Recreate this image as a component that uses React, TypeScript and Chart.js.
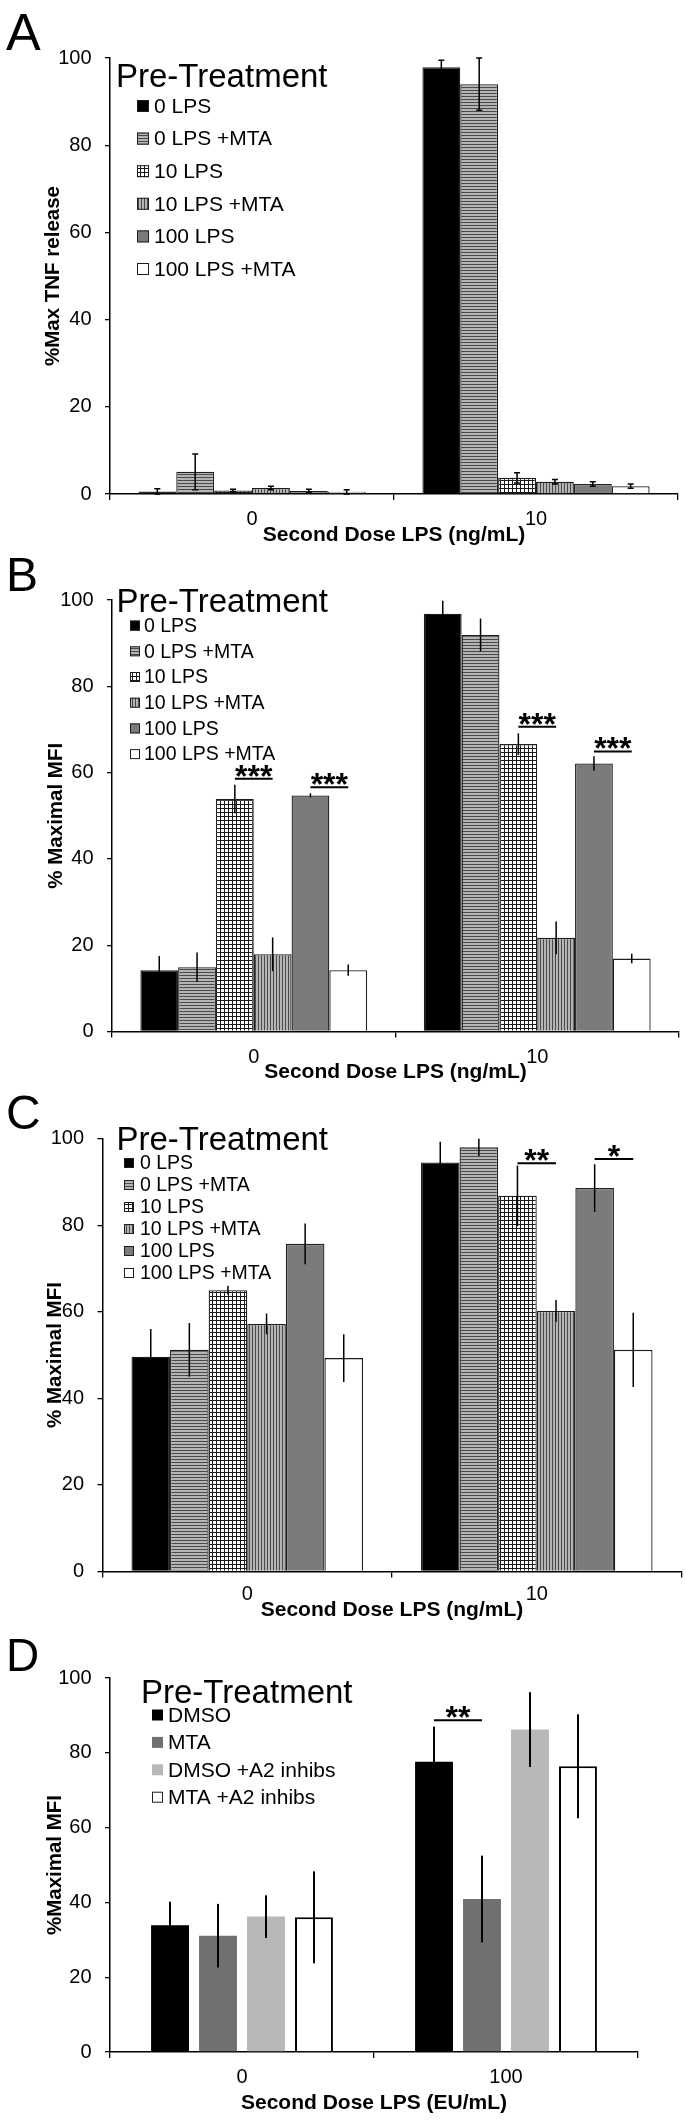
import { useEffect, useRef } from "react";
import { Chart, registerables } from "chart.js";

Chart.register(...registerables);

const FONT = "'Liberation Sans', Arial, Helvetica, sans-serif";

// ---------------- data ----------------
const lpsCategories = ["0", "10"];
const euCategories = ["0", "100"];
const lpsSeries = ["0 LPS", "0 LPS +MTA", "10 LPS", "10 LPS +MTA", "100 LPS", "100 LPS +MTA"];
const dSeries = ["DMSO", "MTA", "DMSO +A2 inhibs", "MTA +A2 inhibs"];
const yTickStep = 20;
const yMax = 100;

// each row = one series, values for [second dose 0, second dose 10/100]
const aMeans = [[0.6, 97.9], [5.1, 94.0], [0.8, 3.7], [1.4, 2.8], [0.7, 2.3], [0.5, 1.8]];
const aErrors = [[0.6, 1.6], [4.1, 6.0], [0.3, 1.2], [0.4, 0.5], [0.4, 0.5], [0.5, 0.5]];

const bMeans = [[14.2, 96.8], [14.9, 91.9], [53.9, 66.6], [17.9, 21.7], [54.7, 62.1], [14.2, 16.9]];
const bErrors = [[3.3, 3.0], [3.4, 3.8], [3.3, 2.5], [3.9, 3.8], [0.5, 1.7], [1.3, 1.1]];

const cMeans = [[49.6, 94.5], [51.2, 98.0], [65.0, 86.8], [57.2, 60.2], [75.7, 88.6], [49.3, 51.2]];
const cErrors = [[6.4, 4.8], [6.2, 2.0], [1.0, 7.0], [2.4, 2.5], [4.7, 5.5], [5.5, 8.6]];

const dMeans = [[33.9, 77.6], [31.1, 40.9], [36.2, 86.2], [36.0, 76.4]];
const dErrors = [[6.3, 9.4], [8.5, 11.6], [5.7, 10.0], [12.3, 13.9]];

// significance: [category index, first bar index, bracket level (%), label]
const bSignif: [number, number, number, string][] = [[0, 2, 58.6, "***"], [0, 4, 56.6, "***"], [1, 2, 70.6, "***"], [1, 4, 64.9, "***"]];
const cSignif: [number, number, number, string][] = [[1, 2, 94.3, "**"], [1, 4, 95.3, "*"]];
const dSignif: [number, number, number, string][] = [[1, 0, 88.7, "**"]];

// ---------------- styles ----------------
function makePattern(kind: string): CanvasPattern | string {
  const c = document.createElement("canvas");
  const n = kind === "grid" ? 4 : 3;
  c.width = n;
  c.height = n;
  const g = c.getContext("2d");
  if (!g) return "#999";
  if (kind === "hstripes") {
    g.fillStyle = "#b4b4b4";
    g.fillRect(0, 0, n, n);
    g.fillStyle = "#4a4a4a";
    g.fillRect(0, 0, n, 1);
  } else if (kind === "vstripes") {
    g.fillStyle = "#b4b4b4";
    g.fillRect(0, 0, n, n);
    g.fillStyle = "#4a4a4a";
    g.fillRect(0, 0, 1, n);
  } else {
    g.fillStyle = "#ffffff";
    g.fillRect(0, 0, n, n);
    g.fillStyle = "#1a1a1a";
    g.fillRect(0, 0, n, 1);
    g.fillRect(0, 0, 1, n);
  }
  return g.createPattern(c, "repeat") || "#999";
}

type Layout = {
  letter: string;
  letterSize: number;
  letterBaseline: number;
  top: number;
  height: number;
  plot: { left: number; right: number; top: number; bottom: number };
  tickLabelY: number;
  xTitleY: number;
  yTitleX: number;
  legendTitleX: number;
  legendTitleBaseline: number;
  boxX: number;
  boxSize: number;
  textX: number;
  firstRowY: number;
  rowStep: number;
  legendFont: number;
  errCap: number;
  errWidth: number;
};

type PanelCfg = {
  layout: Layout;
  categories: string[];
  series: string[];
  means: number[][];
  errors: number[][];
  signif: [number, number, number, string][];
  kind: "lps" | "dmso";
  xTitle: string;
  yTitle: string;
};

const panels: PanelCfg[] = [
  {
    layout: {
      letter: "A", letterSize: 52, letterBaseline: 50, top: 0, height: 552,
      plot: { left: 110, right: 678, top: 58, bottom: 494 },
      tickLabelY: 519.5, xTitleY: 535, yTitleX: 53,
      legendTitleX: 116, legendTitleBaseline: 87,
      boxX: 137, boxSize: 12, textX: 154, firstRowY: 106, rowStep: 32.6, legendFont: 21,
      errCap: 3, errWidth: 1.5,
    },
    categories: lpsCategories, series: lpsSeries, means: aMeans, errors: aErrors, signif: [],
    kind: "lps", xTitle: "Second Dose LPS (ng/mL)", yTitle: "%Max TNF release",
  },
  {
    layout: {
      letter: "B", letterSize: 48, letterBaseline: 591, top: 552, height: 532,
      plot: { left: 112, right: 679, top: 600, bottom: 1031.5 },
      tickLabelY: 1057, xTitleY: 1072, yTitleX: 56,
      legendTitleX: 116.5, legendTitleBaseline: 612,
      boxX: 130, boxSize: 10, textX: 144, firstRowY: 625.6, rowStep: 25.7, legendFont: 19.5,
      errCap: 0, errWidth: 1.5,
    },
    categories: lpsCategories, series: lpsSeries, means: bMeans, errors: bErrors, signif: bSignif,
    kind: "lps", xTitle: "Second Dose LPS (ng/mL)", yTitle: "% Maximal MFI",
  },
  {
    layout: {
      letter: "C", letterSize: 48, letterBaseline: 1129, top: 1084, height: 541,
      plot: { left: 102.5, right: 681.5, top: 1138.7, bottom: 1571.4 },
      tickLabelY: 1594.6, xTitleY: 1610, yTitleX: 55,
      legendTitleX: 116.5, legendTitleBaseline: 1150,
      boxX: 124, boxSize: 10, textX: 140, firstRowY: 1163, rowStep: 22, legendFont: 19.5,
      errCap: 0, errWidth: 1.5,
    },
    categories: lpsCategories, series: lpsSeries, means: cMeans, errors: cErrors, signif: cSignif,
    kind: "lps", xTitle: "Second Dose LPS (ng/mL)", yTitle: "% Maximal MFI",
  },
  {
    layout: {
      letter: "D", letterSize: 46, letterBaseline: 1671, top: 1625, height: 497,
      plot: { left: 110, right: 638, top: 1678, bottom: 2052 },
      tickLabelY: 2077, xTitleY: 2103, yTitleX: 55,
      legendTitleX: 141, legendTitleBaseline: 1703,
      boxX: 152, boxSize: 11, textX: 168, firstRowY: 1715, rowStep: 27.4, legendFont: 21,
      errCap: 0, errWidth: 2,
    },
    categories: euCategories, series: dSeries, means: dMeans, errors: dErrors, signif: dSignif,
    kind: "dmso", xTitle: "Second Dose LPS (EU/mL)", yTitle: "%Maximal MFI",
  },
];

function buildDatasets(p: PanelCfg) {
  if (p.kind === "lps") {
    const fills: (CanvasPattern | string)[] = [
      "#000000",
      makePattern("hstripes"),
      makePattern("grid"),
      makePattern("vstripes"),
      "#7b7b7b",
      "#ffffff",
    ];
    return p.series.map((label, i) => ({
      label,
      data: p.means[i],
      errors: p.errors[i],
      backgroundColor: fills[i],
      borderColor: "#1e1e1e",
      borderWidth: 1.3,
      categoryPercentage: 0.8,
      barPercentage: 1.0,
    }));
  }
  const fills = ["#000000", "#707070", "#b8b8b8", "#ffffff"];
  return p.series.map((label, i) => ({
    label,
    data: p.means[i],
    errors: p.errors[i],
    backgroundColor: fills[i],
    borderColor: "#000000",
    borderWidth: i === 3 ? 2 : 0,
    categoryPercentage: 0.727,
    barPercentage: 0.79,
  }));
}

function decorPlugin(p: PanelCfg) {
  const L = p.layout;
  return {
    id: "decor" + L.letter,
    afterDatasetsDraw(chart: any) {
      const ctx: CanvasRenderingContext2D = chart.ctx;
      const ys = chart.scales.y;
      ctx.save();
      // error bars
      chart.data.datasets.forEach((ds: any, i: number) => {
        const meta = chart.getDatasetMeta(i);
        meta.data.forEach((bar: any, j: number) => {
          const m = ds.data[j];
          const e = ds.errors[j];
          const yt = ys.getPixelForValue(Math.min(m + e, yMax));
          const yb = ys.getPixelForValue(Math.max(m - e, 0));
          ctx.strokeStyle = "#000";
          ctx.lineWidth = L.errWidth;
          ctx.beginPath();
          ctx.moveTo(bar.x, yt);
          ctx.lineTo(bar.x, yb);
          if (L.errCap > 0) {
            ctx.moveTo(bar.x - L.errCap, yt);
            ctx.lineTo(bar.x + L.errCap, yt);
            ctx.moveTo(bar.x - L.errCap, yb);
            ctx.lineTo(bar.x + L.errCap, yb);
          }
          ctx.stroke();
        });
      });
      // significance brackets
      p.signif.forEach(([cat, bi, level, text]) => {
        const x1 = chart.getDatasetMeta(bi).data[cat].x;
        const x2 = chart.getDatasetMeta(bi + 1).data[cat].x;
        const y = ys.getPixelForValue(level);
        ctx.strokeStyle = "#000";
        ctx.lineWidth = 2;
        ctx.beginPath();
        ctx.moveTo(x1, y);
        ctx.lineTo(x2, y);
        ctx.stroke();
        ctx.font = `bold 32px ${FONT}`;
        ctx.fillStyle = "#000";
        ctx.textAlign = "center";
        ctx.textBaseline = "alphabetic";
        const mt = ctx.measureText(text);
        const center = y - 8;
        const base = center + (mt.actualBoundingBoxAscent - mt.actualBoundingBoxDescent) / 2;
        ctx.fillText(text, (x1 + x2) / 2, base);
      });
      ctx.restore();
    },
    afterDraw(chart: any) {
      const ctx: CanvasRenderingContext2D = chart.ctx;
      const T = L.top;
      ctx.save();
      ctx.fillStyle = "#000";
      ctx.textAlign = "left";
      ctx.textBaseline = "alphabetic";
      ctx.font = `${L.letterSize}px ${FONT}`;
      ctx.fillText(L.letter, 6, L.letterBaseline - T);
      ctx.font = `33px ${FONT}`;
      ctx.fillText("Pre-Treatment", L.legendTitleX, L.legendTitleBaseline - T);
      ctx.font = `${L.legendFont}px ${FONT}`;
      ctx.textBaseline = "middle";
      chart.data.datasets.forEach((ds: any, i: number) => {
        const cy = L.firstRowY + i * L.rowStep - T;
        const s = L.boxSize;
        ctx.fillStyle = ds.backgroundColor;
        ctx.fillRect(L.boxX, cy - s / 2, s, s);
        if (ds.borderWidth > 0 || p.kind === "lps") {
          ctx.strokeStyle = "#1e1e1e";
          ctx.lineWidth = 1;
          ctx.strokeRect(L.boxX + 0.5, cy - s / 2 + 0.5, s - 1, s - 1);
        }
        ctx.fillStyle = "#000";
        ctx.fillText(ds.label, L.textX, cy + 1);
      });
      ctx.restore();
    },
  };
}

function buildConfig(p: PanelCfg): any {
  const L = p.layout;
  const H = L.height;
  const T = L.top;
  const plotTop = L.plot.top - T;
  const plotBottom = L.plot.bottom - T;
  const tickFont = 20;
  const xTitleFont = 21;
  const yTitleFont = 20.5;
  const xTickLen = 6;
  return {
    type: "bar",
    data: { labels: p.categories, datasets: buildDatasets(p) },
    options: {
      responsive: false,
      maintainAspectRatio: false,
      animation: false,
      devicePixelRatio: 1,
      layout: { padding: { left: 0, top: plotTop, right: 686 - L.plot.right, bottom: 0 } },
      plugins: { legend: { display: false }, tooltip: { enabled: false }, title: { display: false } },
      scales: {
        x: {
          type: "category",
          offset: true,
          grid: {
            display: true, offset: true, drawOnChartArea: false, drawTicks: true,
            tickLength: xTickLen, color: "#000", lineWidth: 1.3,
          },
          border: { display: true, color: "#000", width: 1.5 },
          ticks: {
            color: "#000", autoSkip: false, maxRotation: 0,
            font: { family: FONT, size: tickFont, lineHeight: 1.2 },
            padding: L.tickLabelY - T - plotBottom - xTickLen - tickFont * 0.6,
          },
          title: {
            display: true, text: p.xTitle, color: "#000",
            font: { family: FONT, size: xTitleFont, weight: "bold", lineHeight: 1.2 },
            padding: { top: 0, bottom: H - (L.xTitleY - T) - xTitleFont * 0.6 },
          },
          afterFit: (s: any) => { s.height = H - plotBottom; },
        },
        y: {
          min: 0, max: yMax,
          grid: { display: true, drawOnChartArea: false, drawTicks: true, tickLength: 5, color: "#000", lineWidth: 1.3 },
          border: { display: true, color: "#000", width: 1.5 },
          ticks: {
            stepSize: yTickStep, color: "#000", padding: 13.5,
            font: { family: FONT, size: tickFont, lineHeight: 1.2 },
          },
          title: {
            display: true, text: p.yTitle, color: "#000",
            font: { family: FONT, size: yTitleFont, weight: "bold", lineHeight: 1.2 },
            padding: { top: L.yTitleX - yTitleFont * 0.6, bottom: 0 },
          },
          afterFit: (s: any) => { s.width = L.plot.left; },
        },
      },
    },
    plugins: [decorPlugin(p)],
  };
}

function Panel({ cfg }: { cfg: PanelCfg }) {
  const ref = useRef<HTMLCanvasElement>(null);
  useEffect(() => {
    if (!ref.current) return;
    const chart = new Chart(ref.current, buildConfig(cfg));
    return () => chart.destroy();
  }, [cfg]);
  return (
    <canvas
      ref={ref}
      width={686}
      height={cfg.layout.height}
      style={{ position: "absolute", left: 0, top: cfg.layout.top, width: 686, height: cfg.layout.height }}
    />
  );
}

export default function App() {
  return (
    <div style={{ position: "absolute", left: 0, top: 0, width: 686, height: 2122, background: "#fff" }}>
      {panels.map((p) => (
        <Panel key={p.layout.letter} cfg={p} />
      ))}
    </div>
  );
}
